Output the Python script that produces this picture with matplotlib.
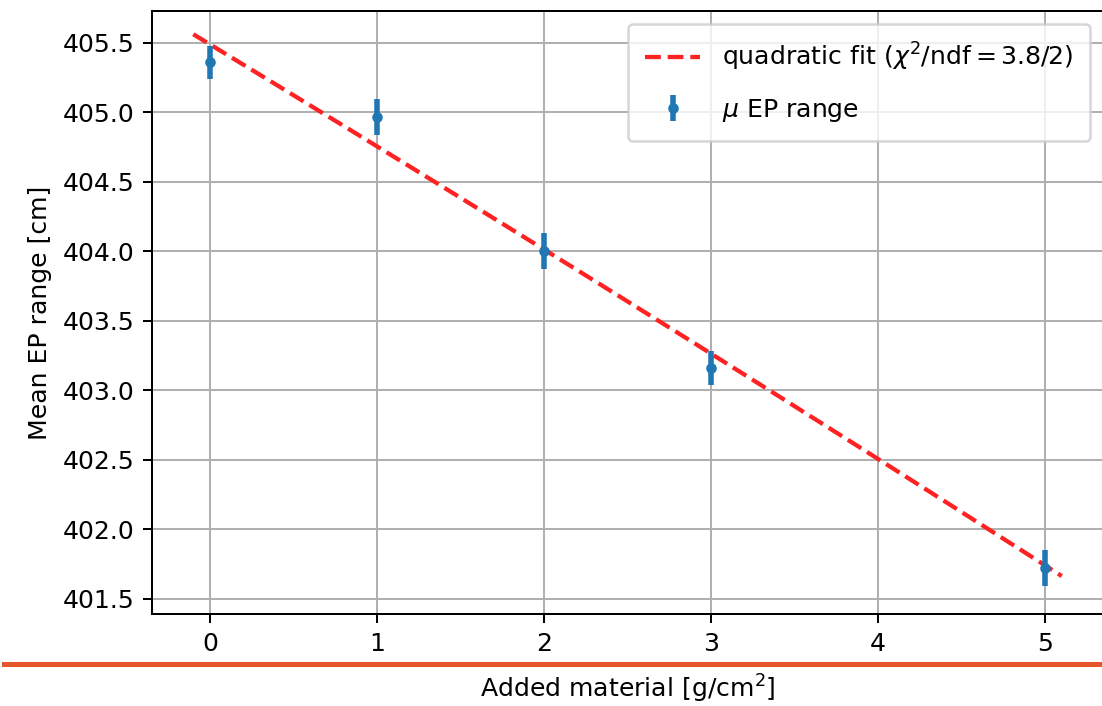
import matplotlib
matplotlib.use("Agg")
import matplotlib.pyplot as plt
import numpy as np
from matplotlib.lines import Line2D

# Data
material = [0, 1, 2, 3, 5]
ep_range = [405.36, 404.97, 404.00, 403.16, 401.72]
ep_err = [0.12, 0.13, 0.13, 0.12, 0.13]

# quadratic fit coefficients (c0 + c1*x + c2*x^2) and drawing range
fit_coeffs = [405.49, -0.73, -0.004]
fit_range = [-0.1, 5.1]

DPI = 181
fig = plt.figure(figsize=(1102 / DPI, 706 / DPI), dpi=DPI)
ax = fig.add_axes([152 / 1102, 1 - 614 / 706, 951 / 1102, 603 / 706])

xf = np.linspace(fit_range[0], fit_range[1], 200)
yf = fit_coeffs[0] + fit_coeffs[1] * xf + fit_coeffs[2] * xf ** 2
ax.plot(xf, yf, '--', color='#ff2222', lw=1.7, label=r'quadratic fit ($\chi^2$/ndf$=$3.8/2)')
ax.errorbar(material, ep_range, yerr=ep_err, fmt='o', ms=3.2, color='#1f77b4',
            elinewidth=2.2, label=r'$\mu$ EP range')

ax.set_xlim(-0.347, 5.347)
ax.set_ylim(401.39, 405.73)
ax.set_yticks(np.arange(401.5, 405.51, 0.5))
ax.set_xticks([0, 1, 2, 3, 4, 5])
ax.grid(True, color='#b0b0b0', lw=0.8)
ax.set_axisbelow(True)

ax.set_ylabel('Mean EP range [cm]')
ax.set_xlabel(r'Added material [g/cm$^2$]', labelpad=7)
ax.legend(loc='upper right', labelspacing=0.95, borderpad=0.68,
          handlelength=2.2, handletextpad=0.85)

# orange separator line across the figure
fig.add_artist(Line2D([4 / 1102, 1.0], [1 - 663.5 / 706, 1 - 663.5 / 706],
                      transform=fig.transFigure, color='#e8552a', lw=2.0))

fig.savefig('out.png', dpi=DPI)
